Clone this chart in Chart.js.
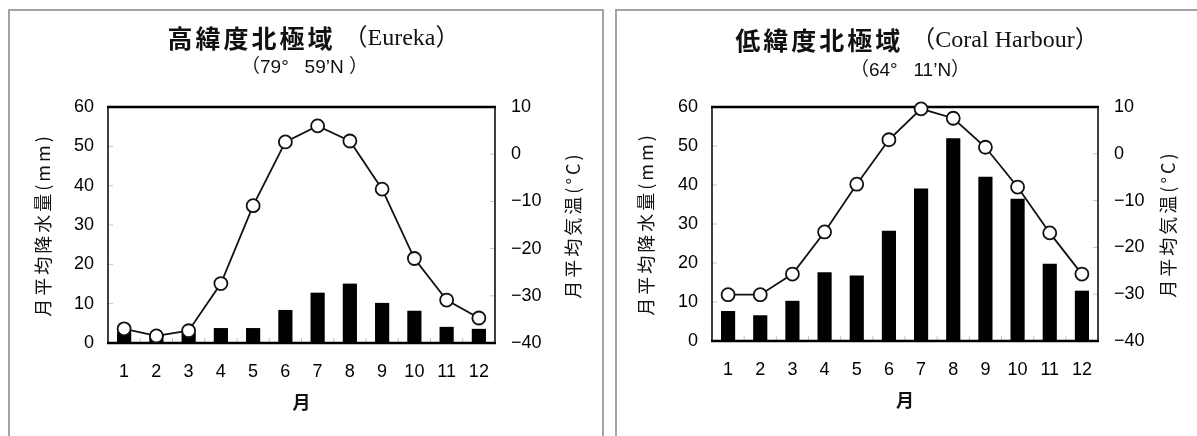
<!DOCTYPE html>
<html>
<head>
<meta charset="utf-8">
<script src="https://cdn.jsdelivr.net/npm/chart.js@4.4.1/dist/chart.umd.min.js"></script>
<style>
body { margin: 0; background: #fff; width: 1197px; height: 436px; overflow: hidden; position: relative; }
.panel { position: absolute; top: 9px; height: 450px; border: 2px solid #a3a3a3; border-bottom: none; box-sizing: border-box; }
canvas { position: absolute; top: 0; }
</style>
</head>
<body>
<div class="panel" style="left:8px;width:596px"></div>
<div class="panel" style="left:615px;width:610px"></div>
<canvas id="chartEureka" width="605" height="436" style="left:0"></canvas>
<canvas id="chartCoral" width="592" height="436" style="left:605px"></canvas>
<script>
// months on the x axis
const months = ['1', '2', '3', '4', '5', '6', '7', '8', '9', '10', '11', '12'];

// Eureka (high latitude arctic)
const eurekaPrecip = [2.8, 2.2, 2.5, 3.8, 3.8, 8.4, 12.8, 15.1, 10.2, 8.2, 4.1, 3.6];
const eurekaTemp = [-37.0, -38.5, -37.4, -27.4, -10.9, 2.6, 6.0, 2.8, -7.4, -22.1, -30.9, -34.7];

// Coral Harbour (low latitude arctic)
const coralPrecip = [7.7, 6.6, 10.3, 17.6, 16.8, 28.3, 39.1, 52.0, 42.1, 36.5, 19.8, 12.9];
const coralTemp = [-30.1, -30.1, -25.7, -16.7, -6.5, 3.0, 9.6, 7.6, 1.4, -7.1, -16.9, -25.7];

const precipAxisTitle = '月平均降水量(mm)';
const tempAxisTitle = '月平均気温(°C)';
const monthAxisTitle = '月';

const FONT_NUM = "'Liberation Sans', Arial, 'Noto Sans CJK JP', sans-serif";
const FONT_JP = "'Noto Sans CJK JP', sans-serif";
const FONT_SERIF = "'Liberation Serif', 'Noto Sans CJK JP', serif";

// frame, small inner ticks, titles
const panelText = {
    id: 'panelText',
    beforeDatasetsDraw(chart) {
        const {ctx, chartArea: a} = chart;
        const y = chart.scales.y, y1 = chart.scales.y1;
        ctx.save();
        ctx.strokeStyle = '#c4c4c4';
        ctx.lineWidth = 1;
        ctx.beginPath();
        y.ticks.forEach(t => { const p = y.getPixelForValue(t.value); ctx.moveTo(a.left, p); ctx.lineTo(a.left + 5, p); });
        y1.ticks.forEach(t => { const p = y1.getPixelForValue(t.value); ctx.moveTo(a.right - 5, p); ctx.lineTo(a.right, p); });
        const w = (a.right - a.left) / months.length;
        for (let i = 1; i < months.length; i++) {
            ctx.moveTo(a.left + i * w, a.bottom); ctx.lineTo(a.left + i * w, a.bottom - 5);
        }
        ctx.stroke();

        ctx.strokeStyle = '#000';
        ctx.lineWidth = 1.5;
        ctx.beginPath();
        ctx.moveTo(a.left, a.top); ctx.lineTo(a.left, a.bottom);
        ctx.moveTo(a.right, a.top); ctx.lineTo(a.right, a.bottom);
        ctx.stroke();
        ctx.lineWidth = 2.5;
        ctx.beginPath();
        ctx.moveTo(a.left - 1, a.top); ctx.lineTo(a.right + 1, a.top);
        ctx.moveTo(a.left - 1, a.bottom); ctx.lineTo(a.right + 1, a.bottom);
        ctx.stroke();
        ctx.restore();
    },
    afterDraw(chart, args, opts) {
        const {ctx, chartArea: a} = chart;
        ctx.save();
        ctx.fillStyle = '#111';
        ctx.textBaseline = 'middle';
        ctx.textAlign = 'left';

        // main title: CJK bold + latin serif
        const gap = 8;
        ctx.font = 'bold 25px ' + FONT_JP;
        ctx.letterSpacing = '3px';
        const w1 = ctx.measureText(opts.main).width;
        ctx.font = '24px ' + FONT_SERIF;
        ctx.letterSpacing = '0px';
        const w2 = ctx.measureText(opts.latin).width;
        let x = (a.left + a.right) / 2 + opts.dx - (w1 + gap + w2) / 2;
        ctx.font = 'bold 25px ' + FONT_JP;
        ctx.letterSpacing = '3px';
        ctx.fillText(opts.main, x, opts.titleY);
        ctx.font = '24px ' + FONT_SERIF;
        ctx.letterSpacing = '0px';
        ctx.fillText(opts.latin, x + w1 + gap, opts.titleY + 1);

        ctx.textAlign = 'center';
        ctx.font = '19px ' + FONT_NUM;
        ctx.fillText(opts.sub, (a.left + a.right) / 2 + opts.subDx, opts.subY);

        // rotated axis titles, both read bottom to top
        ctx.font = '18px ' + FONT_JP;
        ctx.letterSpacing = '3px';
        [[opts.leftX, precipAxisTitle], [opts.rightX, tempAxisTitle]].forEach(([tx, txt]) => {
            ctx.save();
            ctx.translate(tx, (a.top + a.bottom) / 2);
            ctx.rotate(-Math.PI / 2);
            ctx.fillText(txt, 0, 0);
            ctx.restore();
        });
        ctx.restore();
    }
};

function makeChart(id, precip, temp, dims, text) {
    return new Chart(document.getElementById(id), {
        type: 'bar',
        data: {
            labels: months,
            datasets: [{
                type: 'line',
                data: temp,
                yAxisID: 'y1',
                order: 0,
                borderColor: '#111',
                borderWidth: 1.8,
                pointRadius: 6.5,
                pointBorderWidth: 1.8,
                pointBackgroundColor: '#fff',
                pointBorderColor: '#111',
                tension: 0,
                clip: false
            }, {
                data: precip,
                yAxisID: 'y',
                order: 1,
                backgroundColor: '#000',
                categoryPercentage: 1,
                barPercentage: 0.44
            }]
        },
        options: {
            responsive: false,
            animation: false,
            layout: {padding: {top: 107, left: 0, right: 0, bottom: 0}},
            plugins: {
                legend: {display: false},
                tooltip: {enabled: false},
                panelText: text
            },
            scales: {
                x: {
                    grid: {display: false, drawTicks: false},
                    border: {display: false},
                    ticks: {color: '#000', font: {family: FONT_NUM, size: 18}, padding: 18},
                    title: {display: true, text: monthAxisTitle, color: '#111',
                        font: {family: FONT_JP, size: 18, weight: 'bold'}, padding: {bottom: dims.xTitlePad}},
                    afterFit(s) { s.height = dims.xHeight; }
                },
                y: {
                    position: 'left',
                    min: 0, max: 60,
                    ticks: {stepSize: 10, color: '#000', font: {family: FONT_NUM, size: 18}, padding: 14},
                    grid: {display: false, drawTicks: false},
                    border: {display: false},
                    afterFit(s) { s.width = dims.yWidth; }
                },
                y1: {
                    position: 'right',
                    min: -40, max: 10,
                    ticks: {stepSize: 10, color: '#000', font: {family: FONT_NUM, size: 18}, padding: 16,
                        callback: v => String(v).replace('-', '\u2212')},
                    grid: {display: false, drawTicks: false},
                    border: {display: false},
                    afterFit(s) { s.width = dims.y1Width; }
                }
            }
        },
        plugins: [panelText]
    });
}

makeChart('chartEureka', eurekaPrecip, eurekaTemp,
    {yWidth: 108, y1Width: 110, xHeight: 93, xTitlePad: 23},
    {main: '高緯度北極域', latin: '（Eureka）', sub: '（79°   59’N ）', titleY: 38, subY: 68,
        dx: 12, subDx: 3, leftX: 43, rightX: 573});

makeChart('chartCoral', coralPrecip, coralTemp,
    {yWidth: 107, y1Width: 99, xHeight: 95, xTitlePad: 25},
    {main: '低緯度北極域', latin: '（Coral Harbour）', sub: '（64°   11’N）', titleY: 40, subY: 71,
        dx: 12, subDx: 5, leftX: 41, rightX: 563});
</script>
</body>
</html>
